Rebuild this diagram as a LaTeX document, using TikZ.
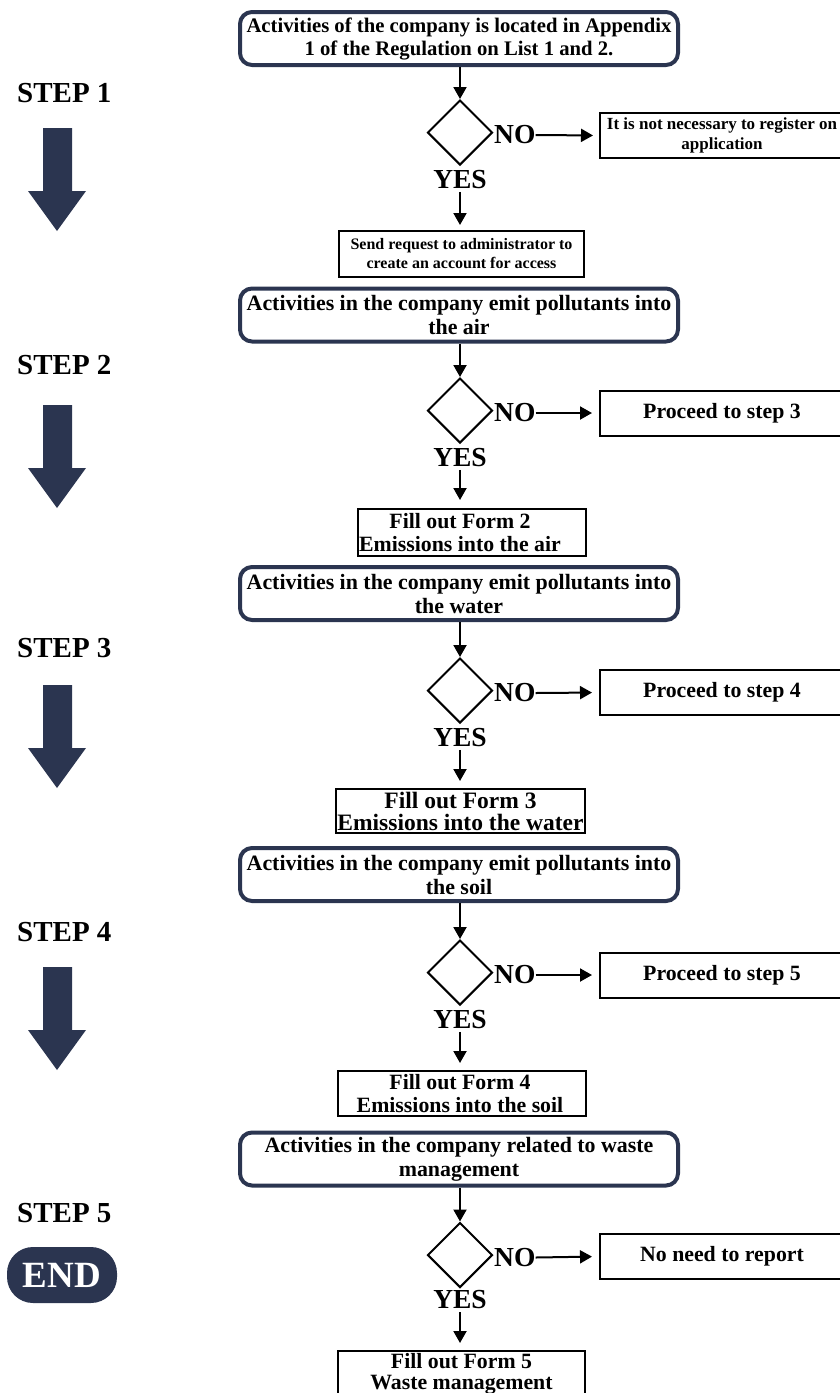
\documentclass[tikz,border=0pt]{standalone}
\usepackage{fontspec}
\setmainfont{Liberation Serif}
\usetikzlibrary{shapes.geometric,arrows.meta}
\definecolor{navy}{HTML}{2B3550}
\newcommand\fsz[2]{\fontsize{#1}{#2}\selectfont\bfseries}
\begin{document}
\begin{tikzpicture}[x=1pt,y=-1pt,
  blockbox/.style={draw=navy, line width=4pt, rounded corners=12pt, fill=white,
    minimum width=438pt, minimum height=53pt, align=center, inner sep=0pt,
    font=\fsz{21.9}{24}},
  smallbox/.style={draw=black, line width=2pt, align=center, inner sep=0pt,
    font=\fsz{21.8}{23}},
  nobox/.style={draw=black, line width=2pt, align=center, inner sep=0pt,
    minimum width=244pt, minimum height=45pt, font=\fsz{21.8}{23}},
  decision/.style={diamond, draw=black, line width=2pt, minimum width=65pt,
    minimum height=65pt, inner sep=0pt},
  yn/.style={inner sep=0pt, font=\fsz{27.5}{30}},
  flow/.style={-{Triangle[length=12pt,width=13pt]}, line width=2pt},
  steplabel/.style={anchor=west, inner sep=0pt, font=\fsz{29}{32}},
  endpill/.style={fill=navy, text=white, rounded corners=26pt, minimum width=110pt,
    minimum height=56pt, inner sep=0pt, font=\fsz{37}{40}},
  bigarrow/.style={fill=navy}
]
\useasboundingbox (0,0) rectangle (840,1393);
\clip (0,0) rectangle (840,1393);

% ---------- left step column ----------
\node[steplabel] (st1) at (17,93) {STEP 1};
\node[steplabel] (st2) at (17,365) {STEP 2};
\node[steplabel] (st3) at (17,648) {STEP 3};
\node[steplabel] (st4) at (17,932) {STEP 4};
\node[steplabel] (st5) at (17,1213) {STEP 5};
\foreach \t in {128,405,685,967}{
  \fill[bigarrow] (43,\t) -- (72,\t) -- (72,\t+63) -- (86,\t+63) -- (57,\t+103)
    -- (28,\t+63) -- (43,\t+63) -- cycle;
}
\node[endpill] (end) at (62,1275) {END};

% ---------- step 1 ----------
\node[blockbox, font=\fsz{20.7}{23}] (b1) at (459,38.5)
  {Activities of the company is located in Appendix\\1 of the Regulation on List 1 and 2.};
\node[decision] (d1) at (460,132.5) {};
\node[yn, anchor=west] (n1) at (494,135) {NO};
\node[yn] (y1) at (460,179.5) {YES};
\node[nobox, font=\fsz{17}{20}] (o1) at (722,135.5)
  {It is not necessary to register on\\application};
\node[smallbox, font=\fsz{16}{19}, minimum width=245pt, minimum height=46pt] (s1) at (461.5,254)
  {Send request to administrator to\\create an account for access};
\draw[flow] (b1.south -| d1.north) -- (d1.north);
\draw[flow, shorten >=6pt] (n1.east) -- (o1.west);
\draw[flow, shorten <=3pt, shorten >=5pt] (y1.south) -- (y1.south |- s1.north);

% ---------- step 2 ----------
\node[blockbox] (b2) at (459,315)
  {Activities in the company emit pollutants into\\the air};
\node[decision] (d2) at (460,410.5) {};
\node[yn, anchor=west] (n2) at (494,413) {NO};
\node[yn] (y2) at (460,457.5) {YES};
\node[nobox] (o2) at (722,413) {Proceed to step 3};
\node[smallbox, minimum width=228pt, minimum height=47pt] (f2) at (472,532.5)
  {Fill out Form 2\hspace*{24pt}\\Emissions into the air\hspace*{24pt}};
\draw[flow] (b2.south -| d2.north) -- (d2.north);
\draw[flow, shorten >=7pt] (n2.east) -- (o2.west);
\draw[flow, shorten <=3pt, shorten >=8pt] (y2.south) -- (y2.south |- f2.north);

% ---------- step 3 ----------
\node[blockbox] (b3) at (459,593.5)
  {Activities in the company emit pollutants into\\the water};
\node[decision] (d3) at (460,690.5) {};
\node[yn, anchor=west] (n3) at (494,693) {NO};
\node[yn] (y3) at (460,737.5) {YES};
\node[nobox] (o3) at (722,692.5) {Proceed to step 4};
\node[smallbox, font=\fsz{23.5}{22}, minimum width=249pt, minimum height=44pt] (f3) at (460.5,811)
  {Fill out Form 3\\Emissions into the water};
\draw[flow] (b3.south -| d3.north) -- (d3.north);
\draw[flow, shorten >=7pt] (n3.east) -- (o3.west);
\draw[flow, shorten <=3pt, shorten >=7pt] (y3.south) -- (y3.south |- f3.north);

% ---------- step 4 ----------
\node[blockbox] (b4) at (459,874.5)
  {Activities in the company emit pollutants into\\the soil};
\node[decision] (d4) at (460,972.5) {};
\node[yn, anchor=west] (n4) at (494,975) {NO};
\node[yn] (y4) at (460,1019.5) {YES};
\node[nobox] (o4) at (722,975) {Proceed to step 5};
\node[smallbox, minimum width=248pt, minimum height=45pt] (f4) at (462,1093.5)
  {Fill out Form 4\hspace*{4pt}\\Emissions into the soil\hspace*{4pt}};
\draw[flow] (b4.south -| d4.north) -- (d4.north);
\draw[flow, shorten >=7pt] (n4.east) -- (o4.west);
\draw[flow, shorten <=3pt, shorten >=7pt] (y4.south) -- (y4.south |- f4.north);

% ---------- step 5 ----------
\node[blockbox] (b5) at (459,1159)
  {Activities in the company related to waste\\management};
\node[decision] (d5) at (460,1255) {};
\node[yn, anchor=west] (n5) at (494,1257.5) {NO};
\node[yn] (y5) at (460,1300) {YES};
\node[nobox] (o5) at (722,1256.5) {No need to report};
\node[smallbox, font=\fsz{21.8}{21}, minimum width=247pt, minimum height=46pt] (f5) at (461.5,1374)
  {Fill out Form 5\\Waste management};
\draw[flow] (b5.south -| d5.north) -- (d5.north);
\draw[flow, shorten >=7pt] (n5.east) -- (o5.west);
\draw[flow, shorten <=3pt, shorten >=7pt] (y5.south) -- (y5.south |- f5.north);
\end{tikzpicture}
\end{document}
